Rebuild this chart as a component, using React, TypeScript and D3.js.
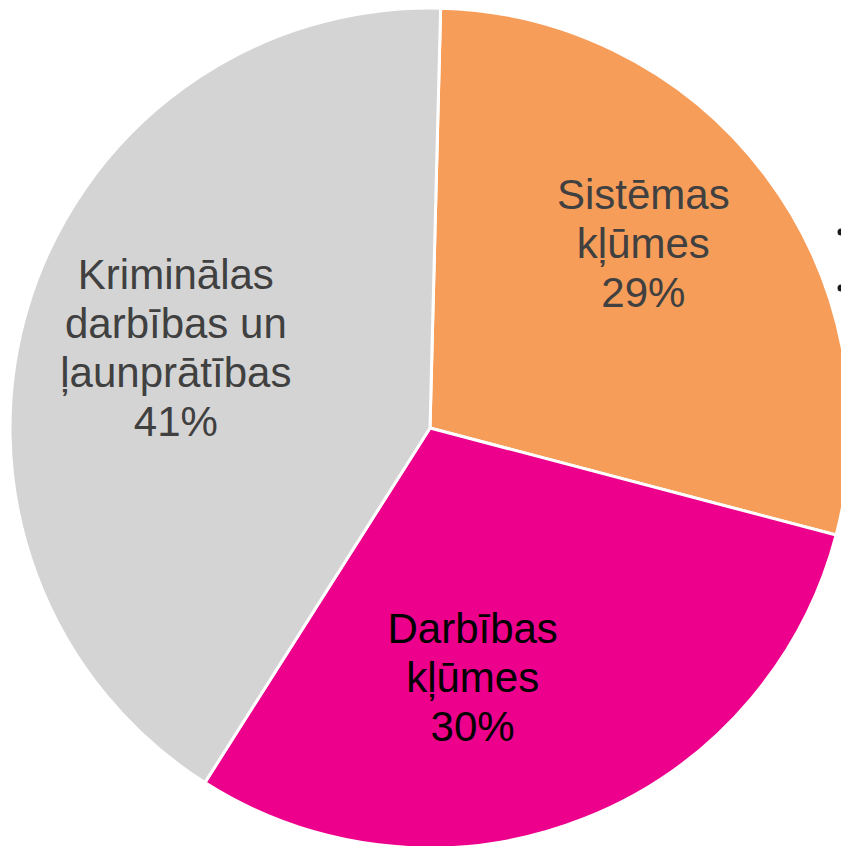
import React from "react";
import * as d3 from "d3";

const categories = ["Sistēmas kļūmes", "Darbības kļūmes", "Kriminālas darbības un ļaunprātības"];
const values = [28.7, 29.9, 41.4];
const labelLines = [
  ["Sistēmas", "kļūmes", "29%"],
  ["Darbības", "kļūmes", "30%"],
  ["Kriminālas", "darbības un", "ļaunprātības", "41%"],
];
const colors = ["#F79D5A", "#EC008C", "#D4D4D4"];
const textColors = ["#404040", "#000000", "#404040"];
const legendItems = ["Sistēmas kļūmes", "Darbības kļūmes"];

const W = 841;
const H = 846;
const cx = 430;
const cy = 428;
const R = 420;
const startDeg = 1.45;
// label nudges relative to centroid at label radius
const labelNudge = [
  [-5, -21],
  [-57, -5],
  [7, -1],
];

export default function App() {
  const pie = d3
    .pie<number>()
    .sort(null)
    .value((d) => d)
    .startAngle((startDeg * Math.PI) / 180)
    .endAngle((startDeg * Math.PI) / 180 + 2 * Math.PI);
  const arcs = pie(values);
  const arc = d3.arc<d3.PieArcDatum<number>>().innerRadius(0).outerRadius(R);
  const labelArc = d3.arc<d3.PieArcDatum<number>>().innerRadius(R * 0.65).outerRadius(R * 0.65);
  const fontSize = 42;
  const lineH = 49;

  return (
    <svg
      width={W}
      height={H}
      style={{ position: "absolute", left: 0, top: 0, display: "block" }}
      fontFamily="'Liberation Sans', Arial, sans-serif"
    >
      <rect width={W} height={H} fill="#ffffff" />
      <g transform={`translate(${cx},${cy})`}>
        {arcs.map((a, i) => (
          <path key={categories[i]} d={arc(a) || ""} fill={colors[i]} stroke="#ffffff" strokeWidth={3} strokeLinejoin="round" />
        ))}
        {arcs.map((a, i) => {
          const [lx, ly] = labelArc.centroid(a);
          const lines = labelLines[i];
          const x = lx + labelNudge[i][0];
          const yMid = ly + labelNudge[i][1];
          const y0 = yMid - ((lines.length - 1) * lineH) / 2 + fontSize * 0.36;
          return (
            <text key={"l" + i} textAnchor="middle" fontSize={fontSize} fill={textColors[i]}>
              {lines.map((t, j) => (
                <tspan key={j} x={x} y={y0 + j * lineH}>
                  {t}
                </tspan>
              ))}
            </text>
          );
        })}
      </g>
      {legendItems.map((t, i) => (
        <circle key={t} cx={841} cy={232 + i * 56} r={3.5} fill="#1a1a1a" />
      ))}
    </svg>
  );
}
